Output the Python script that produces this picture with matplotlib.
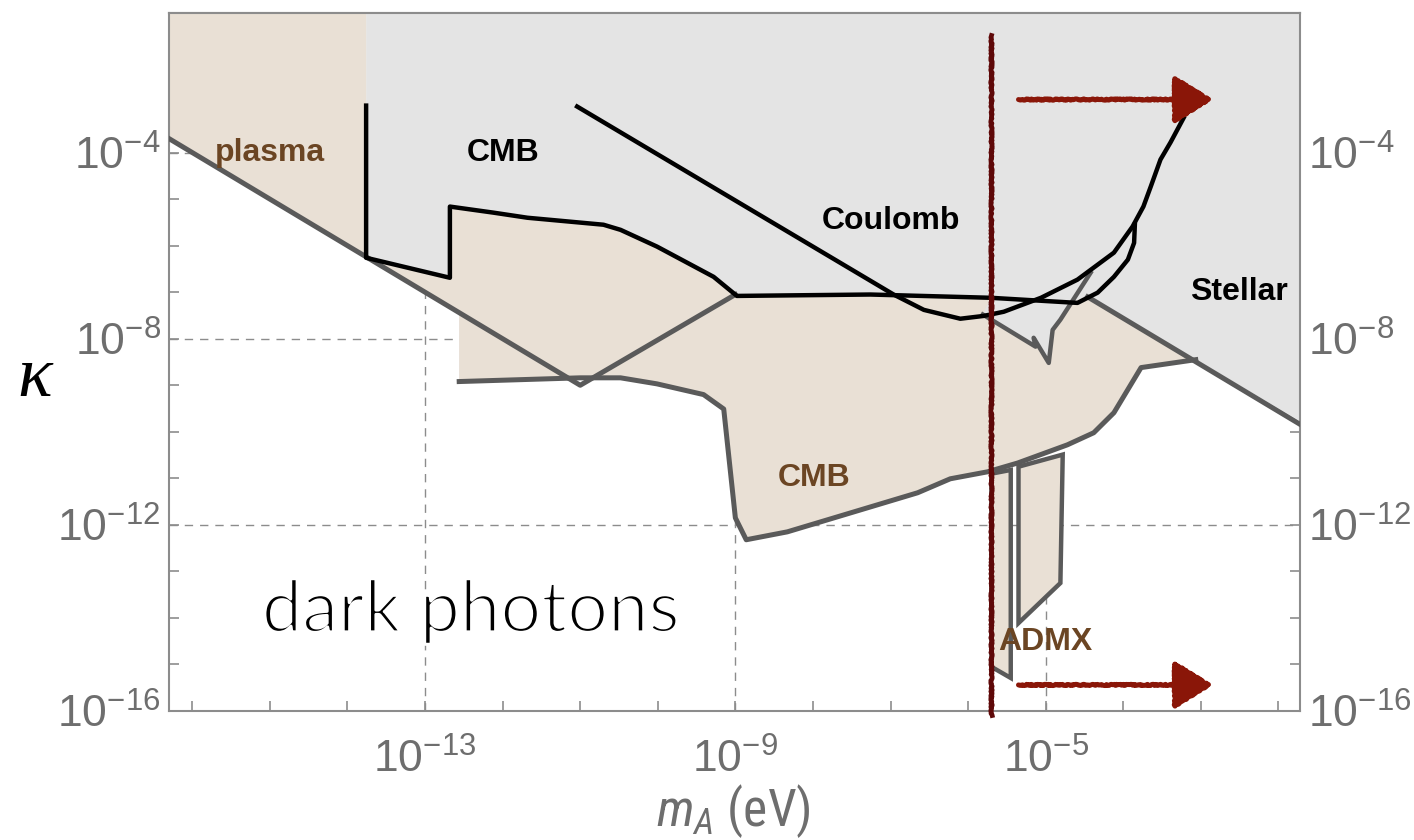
import matplotlib
matplotlib.use('Agg')
import matplotlib.pyplot as plt
import matplotlib.patheffects as pe
import numpy as np
from matplotlib import font_manager
from matplotlib.ticker import FixedLocator, LogLocator, NullFormatter, NullLocator, FuncFormatter

# all curves in log10(m_A / eV) and log10(kappa)
plasma_logm = [-16.3, -11.0, -9.0]
plasma_logk = [-3.7, -9.0, -7.05]

cmb_logm = [-13.76, -13.76, -12.68, -12.68, -12.12, -11.68, -10.70, -10.48, -10.01,
            -9.28, -8.98, -7.26, -5.71, -4.59, -4.33, -4.12, -3.94, -3.86, -3.85]
cmb_logk = [-2.99, -6.26, -6.69, -5.16, -5.29, -5.40, -5.55, -5.66, -6.02,
            -6.67, -7.08, -7.05, -7.12, -7.23, -7.01, -6.67, -6.30, -5.94, -5.55]

coulomb_logm = [-11.04, -6.96, -6.57, -6.10, -5.80, -5.54, -5.06, -4.59, -4.12,
                -3.88, -3.74, -3.645, -3.52, -3.39, -3.22]
coulomb_logk = [-3.01, -7.05, -7.38, -7.57, -7.51, -7.42, -7.12, -6.73, -6.15,
                -5.59, -5.16, -4.73, -4.15, -3.78, -3.25]

# lower edge of the CMB (distortion) region
cmb_low_logm = [-12.56, -11.0, -10.48, -10.01, -9.41, -9.15, -9.0, -8.86, -8.33,
                -6.65, -6.23, -5.75, -5.36, -4.72, -4.38, -4.12, -3.77, -3.065]
cmb_low_logk = [-8.92, -8.84, -8.84, -8.97, -9.20, -9.51, -11.85, -12.32, -12.15,
                -11.31, -11.01, -10.86, -10.67, -10.28, -10.02, -9.59, -8.62, -8.45]

notch_logm = [-5.81, -5.13, -5.155, -4.96, -4.91, -4.81, -4.42]
notch_logk = [-7.48, -8.17, -7.98, -8.52, -7.81, -7.59, -6.58]
notch_cross = (-4.65, -7.20)

stellar_logm = [-4.46, -1.5]
stellar_logk = [-7.10, -10.06]

admx1_logm = [-5.70, -5.45, -5.45, -5.70]
admx1_logk = [-10.90, -10.82, -15.29, -15.05]
admx2_logm = [-5.35, -4.78, -4.81, -5.35]
admx2_logk = [-10.75, -10.49, -13.25, -14.11]

haloscope_logm = -5.70
haloscope_logk = [-1.48, -16.09]
arrow_logm = [-5.35, -2.845]
arrow_logk = [-2.86, -15.44]

XLIM = (5e-17, 1.9e-2)
YLIM = (1e-16, 1e-1)
EV_TO_HZ = 2.418e14

TAN = '#e9e0d5'
GRAY = '#e4e4e4'
EDGE = '#5a5a5a'
BROWN = '#6b4523'
AXC = '#8c8c8c'
TXC = '#6e6e6e'

installed = {f.name for f in font_manager.fontManager.ttflist}
narrow = [n for n in ('Liberation Sans Narrow', 'Roboto Condensed', 'Open Sans Condensed')
          if n in installed]
num_font = narrow[0] if narrow else 'Liberation Sans'
num_size = 32 if narrow else 30
plt.rcParams['mathtext.fontset'] = 'custom'
plt.rcParams['mathtext.rm'] = num_font
plt.rcParams['mathtext.it'] = num_font + ':italic'
plt.rcParams['mathtext.bf'] = num_font + ':bold'
plt.rcParams['font.family'] = ['Liberation Sans', 'DejaVu Sans']


def p(a):
    return 10.0 ** np.asarray(a, dtype=float)


fig = plt.figure(figsize=(14.14, 8.4), dpi=100)
ax = fig.add_axes([169 / 1414, 1 - 711 / 840, 1131 / 1414, 698 / 840])
ax.set_xscale('log')
ax.set_yscale('log')
ax.set_xlim(*XLIM)
ax.set_ylim(*YLIM)

top_k = np.log10(YLIM[1])
right_m = np.log10(XLIM[1]) + 0.3
plasma_at_edge = plasma_logk[0] - (cmb_low_logm[0] - plasma_logm[0])

# grey excluded region (under the tan one)
gx = [cmb_logm[0], right_m, right_m] + cmb_low_logm[::-1] + [cmb_low_logm[0], cmb_logm[1]]
gy = [top_k, top_k, stellar_logk[1]] + cmb_low_logk[::-1] + [plasma_at_edge, cmb_logk[1]]
ax.fill(p(gx), p(gy), color=GRAY, lw=0, zorder=1)

# tan region: plasma + CMB
tx = cmb_logm[1:13] + notch_logm[:6] + [notch_cross[0]] + stellar_logm[:1] \
     + cmb_low_logm[::-1] + [cmb_low_logm[0], plasma_logm[0], plasma_logm[0], cmb_logm[0]]
ty = cmb_logk[1:13] + notch_logk[:6] + [notch_cross[1]] + stellar_logk[:1] \
     + cmb_low_logk[::-1] + [plasma_at_edge, plasma_logk[0], top_k, top_k]
ax.fill(p(tx), p(ty), color=TAN, lw=0, zorder=2)

# ADMX strips
for mx, kx in [(admx1_logm, admx1_logk), (admx2_logm, admx2_logk)]:
    ax.fill(p(mx), p(kx), facecolor=TAN, edgecolor=EDGE, lw=3.2, zorder=3)

# grey boundary lines
ax.plot(p(plasma_logm), p(plasma_logk), color=EDGE, lw=3.6, zorder=3)
ax.plot(p(cmb_low_logm), p(cmb_low_logk), color=EDGE, lw=3.6, zorder=3)
ax.plot(p(notch_logm), p(notch_logk), color=EDGE, lw=3.2, zorder=3)
ax.plot(p(stellar_logm), p(stellar_logk), color=EDGE, lw=3.6, zorder=3)

# black constraint curves
ax.plot(p(cmb_logm), p(cmb_logk), color='black', lw=3.2, zorder=4)
ax.plot(p(coulomb_logm), p(coulomb_logk), color='black', lw=3.2, zorder=4)

# haloscope line and arrows
hl, = ax.plot(p([haloscope_logm, haloscope_logm]), p(haloscope_logk), color='#5e0808',
              lw=3.4, zorder=5, clip_on=False)
hl.set_sketch_params(0.7, 2.5, 6.0)
for ak in arrow_logk:
    ann = ax.annotate('', xy=(p(arrow_logm[1]), p(ak)), xytext=(p(arrow_logm[0]), p(ak)),
                      arrowprops=dict(arrowstyle='-|>,head_length=1.2,head_width=0.75',
                                      color='#8a1608', lw=3.6, mutation_scale=20,
                                      shrinkA=0, shrinkB=0),
                      zorder=6)
    ann.arrow_patch.set_sketch_params(0.6, 2.5, 6.0)

# region labels
lab = dict(fontsize=23, fontweight='bold', ha='center', va='center', zorder=7)
ax.text(p(-15.0), p(-4.0), 'plasma', color=BROWN, **lab)
ax.text(p(-12.0), p(-4.0), 'CMB', color='black', **lab)
ax.text(p(-7.0), p(-5.48), 'Coulomb', color='black', **lab)
ax.text(p(-2.51), p(-6.99), 'Stellar', color='black', **lab)
ax.text(p(-7.99), p(-10.99), 'CMB', color=BROWN, **lab)
ax.text(p(-5.0), p(-14.52), 'ADMX', color=BROWN, **lab)
# thin the title lettering with a white edge stroke
ax.text(p(-12.41), p(-14.3), 'dark photons', fontsize=52, family=['Lato', 'DejaVu Sans'],
        fontweight='normal', ha='center', va='baseline', color='black', zorder=7,
        path_effects=[pe.Stroke(linewidth=2.2, foreground='white')])

# axes styling
ax.set_axisbelow(True)
ax.grid(True, which='major', color=AXC, linestyle=(0, (6, 5)), linewidth=1.0)
for s in ax.spines.values():
    s.set_color(AXC)
    s.set_linewidth(1.5)

expfmt = FuncFormatter(lambda v, pos: r'$\mathregular{10^{%d}}$' % int(round(np.log10(v))))
ax.xaxis.set_major_locator(FixedLocator([1e-13, 1e-9, 1e-5]))
ax.yaxis.set_major_locator(FixedLocator([1e-16, 1e-12, 1e-8, 1e-4]))
for axis in (ax.xaxis, ax.yaxis):
    axis.set_major_formatter(expfmt)
    axis.set_minor_locator(LogLocator(base=10, subs=(1.0,), numticks=60))
    axis.set_minor_formatter(NullFormatter())

ax.tick_params(which='both', direction='in', length=7, width=1.2, color=AXC,
               labelcolor=TXC, labelsize=num_size)
ax.tick_params(axis='x', which='both', top=False, pad=20)
ax.tick_params(axis='y', which='both', left=True, right=True, labelleft=True,
               labelright=True, pad=6)

top = ax.secondary_xaxis('top', functions=(lambda m: m * EV_TO_HZ, lambda f: f / EV_TO_HZ))
top.xaxis.set_major_locator(LogLocator(base=10, numticks=60))
top.xaxis.set_major_formatter(NullFormatter())
top.xaxis.set_minor_locator(NullLocator())
top.tick_params(direction='in', length=7, width=1.2, color=AXC)
top.spines['top'].set_color(AXC)
top.spines['top'].set_linewidth(1.5)

ax.set_xlabel(r'$m_A$ (eV)', fontsize=37, color=TXC, family=num_font)
ax.xaxis.set_label_coords((733 - 169) / 1131, (711 - 811) / 698)
ax.xaxis.label.set_va('center')
ax.set_ylabel('κ', fontsize=52, rotation=0, family=['Liberation Serif', 'DejaVu Serif'],
              style='italic', color='black')
ax.yaxis.set_label_coords((35 - 169) / 1131, (711 - 378) / 698)
ax.yaxis.label.set_va('center')
ax.yaxis.label.set_ha('center')

fig.savefig('out.png', dpi=100)
